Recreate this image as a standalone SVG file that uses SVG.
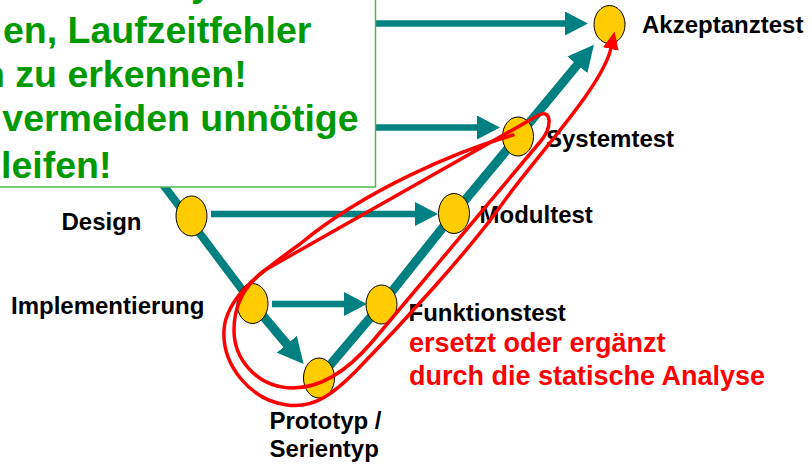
<svg xmlns="http://www.w3.org/2000/svg" width="812" height="467" viewBox="0 0 812 467">
  <defs>
    <style>
      .flow { fill: none; stroke: #008080; stroke-linecap: butt; stroke-linejoin: round; }
      .thin { stroke-width: 6.5; }
      .thick { stroke-width: 9; }
      .node { fill: #FFCC00; stroke: #000000; stroke-width: 1; }
      .label { font-family: "Liberation Sans", Arial, sans-serif; font-weight: bold; font-size: 24px; fill: #000000; }
      .note { font-family: "Liberation Sans", Arial, sans-serif; font-weight: bold; font-size: 27px; fill: #FF0000; }
      .callout { font-family: "Liberation Sans", Arial, sans-serif; font-weight: bold; font-size: 37.5px; fill: #009900; }
      .loop { fill: none; stroke: #FF0000; stroke-width: 3.5; stroke-linejoin: round; stroke-linecap: round; }
    </style>
    <marker id="head-h" markerUnits="userSpaceOnUse" markerWidth="23" markerHeight="24" viewBox="0 0 23 24" refX="1" refY="12" orient="auto">
      <path d="M0,0 L23,12 L0,24 Z" fill="#008080"/>
    </marker>
    <marker id="head-d" markerUnits="userSpaceOnUse" markerWidth="26" markerHeight="26" viewBox="0 0 26 26" refX="1" refY="13" orient="auto">
      <path d="M0,0 L26,13 L0,26 Z" fill="#008080"/>
    </marker>
    <marker id="head-red" markerUnits="userSpaceOnUse" markerWidth="18" markerHeight="16" viewBox="0 0 18 16" refX="1" refY="8" orient="auto">
      <path d="M0,0 L18,8 L0,16 Z" fill="#FF0000"/>
    </marker>
  </defs>

  <rect x="0" y="0" width="812" height="467" fill="#FFFFFF"/>

  <!-- process connectors -->
  <g id="connectors">
    <path class="flow thin" d="M360,23.5 L566,23.5" marker-end="url(#head-h)"/>
    <path class="flow thin" d="M360,127.5 L478,127.5" marker-end="url(#head-h)"/>
    <path class="flow thin" d="M211,214 L416,214" marker-end="url(#head-h)"/>
    <path class="flow thin" d="M272,304 L345,304" marker-end="url(#head-h)"/>
    <path class="flow" stroke-width="8" d="M140,154 L252.5,303.5"/>
    <path class="flow thick" d="M252.5,303.5 L287.5,345" marker-end="url(#head-d)"/>
    <path class="flow thick" d="M319,378 L381.5,304.5 L454,213.5 L518,136.5 L578,64" marker-end="url(#head-d)"/>
  </g>

  <!-- phases -->
  <g id="akzeptanztest">
    <ellipse class="node" cx="609.5" cy="24.5" rx="15.5" ry="19"/>
    <text class="label" x="642" y="33">Akzeptanztest</text>
  </g>
  <g id="systemtest">
    <ellipse class="node" cx="518" cy="136.5" rx="15.5" ry="19.5"/>
    <text class="label" x="546" y="147">Systemtest</text>
  </g>
  <g id="modultest">
    <ellipse class="node" cx="454" cy="213.5" rx="15.5" ry="20"/>
    <text class="label" x="479.5" y="223">Modultest</text>
  </g>
  <g id="funktionstest">
    <ellipse class="node" cx="381.5" cy="304.5" rx="15.5" ry="19.5"/>
    <text class="label" x="408.5" y="321">Funktionstest</text>
  </g>
  <g id="design">
    <ellipse class="node" cx="191.5" cy="216" rx="15.5" ry="20"/>
    <text class="label" x="61.5" y="230">Design</text>
  </g>
  <g id="implementierung">
    <ellipse class="node" cx="252.5" cy="303.5" rx="15.5" ry="20"/>
    <text class="label" x="11" y="314">Implementierung</text>
  </g>
  <g id="prototyp">
    <ellipse class="node" cx="319" cy="378" rx="15.5" ry="20"/>
    <text class="label" x="269.5" y="429">Prototyp /</text>
    <text class="label" x="269.5" y="457">Serientyp</text>
  </g>

  <!-- callout box -->
  <g id="callout">
    <rect x="-10" y="-10" width="385.5" height="197" fill="#FFFFFF" stroke="#4DB84D" stroke-width="1.5"/>
    <text class="callout" x="191" y="-4.5">y</text>
    <text class="callout" x="3" y="43">en, Laufzeitfehler</text>
    <text class="callout" x="-18" y="87">n zu erkennen!</text>
    <text class="callout" x="2.3" y="131">vermeiden unnötige</text>
    <text class="callout" x="1" y="177.5">leifen!</text>
  </g>

  <!-- static analysis shortcut -->
  <g id="static-analysis">
    <path class="loop" d="M265,270 L537,116 C552,107 553,127 540,142 L372,342 C348,370 322,388 293,388 C258,388 234,360 234,330 C234,303 246,284 265,270 Z"/>
    <path class="loop" d="M513,135 C455,152 365,190 300,244 C258,274 226,298 224,330 C222,365 250,400 287,405 C315,409 335,392 355,372 C400,326 470,250 505,200 C540,152 603,85 611,48" marker-end="url(#head-red)"/>
    <text class="note" x="409" y="352">ersetzt oder ergänzt</text>
    <text class="note" x="409" y="385">durch die statische Analyse</text>
  </g>
</svg>
